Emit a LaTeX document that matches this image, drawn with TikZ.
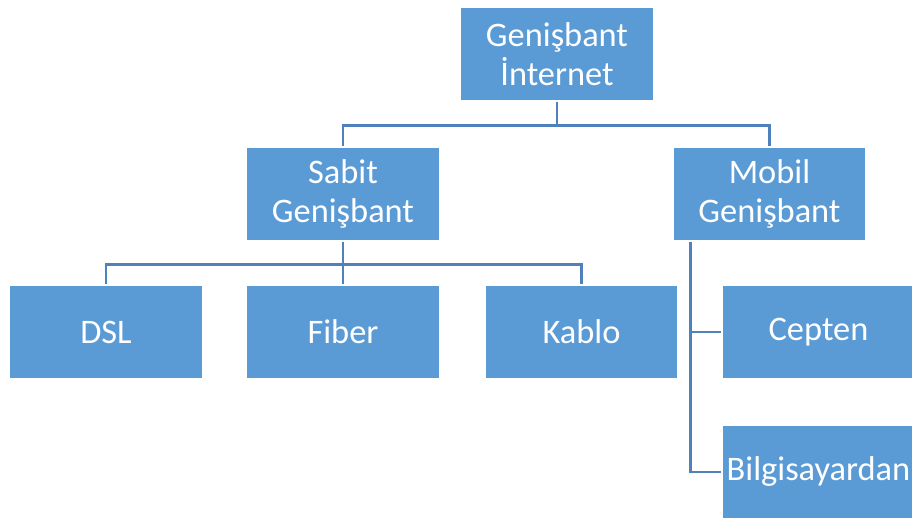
\documentclass[tikz,border=0pt]{standalone}
\usepackage{fontspec}
\setmainfont{Carlito}
\definecolor{boxblue}{HTML}{5B9BD5}
\definecolor{linkblue}{HTML}{4F81BD}
\begin{document}
\begin{tikzpicture}[x=0.75pt,y=-0.75pt,
    box/.style={rectangle,fill=boxblue,draw=white,line width=0.8pt,
        minimum width=144.75pt,minimum height=70.5pt,inner sep=0pt,
        align=center,text=white,font=\fontsize{25.8}{29}\selectfont},
    link/.style={draw=linkblue,line width=2pt}]
    \useasboundingbox (0,0) rectangle (912,520);

    % top level
    \node[box] (internet) at (557,54) {Genişbant\\İnternet};

    % second level
    \node[box] (sabit) at (343,194) {Sabit\\Genişbant};
    \node[box] (mobil) at (769.5,194) {Mobil\\Genişbant};

    % sabit children
    \node[box] (dsl)    at (106,332)   {DSL};
    \node[box] (fiber)  at (343,332)   {Fiber};
    \node[box] (kablo)  at (581.5,332) {Kablo};

    % mobil children
    \node[box] (cepten) at (818.5,332) {Cepten};
    \node[box] (bilgi)  at (818.5,472) {Bilgisayardan};

    \coordinate (mj) at ([xshift=13.5pt]mobil.south west);

    \path[link] (internet.south) -- ++(0,24) -| (sabit.north);
    \path[link] (internet.south) -- ++(0,24) -| (mobil.north);

    \path[link] (sabit.south) -- ++(0,23) -| (dsl.north);
    \path[link] (sabit.south) -- ++(0,23) -| (fiber.north);
    \path[link] (sabit.south) -- ++(0,23) -| (kablo.north);

    \path[link] (mj) |- (cepten.west);
    \path[link] (mj) |- (bilgi.west);
\end{tikzpicture}
\end{document}
